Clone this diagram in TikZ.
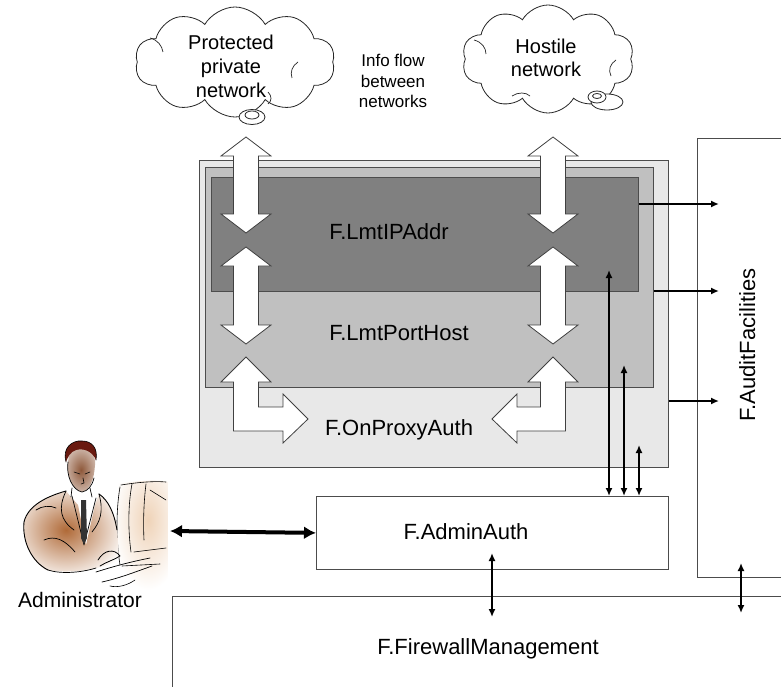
\documentclass[tikz,border=0pt]{standalone}
\usepackage{fontspec}
\setmainfont{Liberation Sans}
\usetikzlibrary{shapes.symbols,arrows.meta,calc}
\definecolor{paneLight}{HTML}{E8E8E8}
\definecolor{paneMid}{HTML}{C0C0C0}
\definecolor{paneDark}{HTML}{808080}
\definecolor{suit}{HTML}{B06A38}
\definecolor{skin}{HTML}{8E583A}
\definecolor{hair}{HTML}{6A1A10}
\definecolor{screen}{HTML}{EFD3B8}
% vertical two-headed block arrow: x centre, top tip y, bottom tip y
\newcommand{\dblockv}[3]{%
  \draw[blockarrow] (#1,#2) -- ({#1+25},{#2+19}) -- ({#1+12.5},{#2+19})
    -- ({#1+12.5},{#3-19}) -- ({#1+25},{#3-19}) -- (#1,#3)
    -- ({#1-25},{#3-19}) -- ({#1-12.5},{#3-19}) -- ({#1-12.5},{#2+19})
    -- ({#1-25},{#2+19}) -- cycle;}
\begin{document}
\begin{tikzpicture}[x=1pt,y=-1pt,
  box/.style={draw=black!70, line width=0.8pt, rectangle, inner sep=0pt, anchor=north west},
  lbl/.style={font=\fontsize{22}{26}\selectfont, inner sep=0pt},
  cloudtxt/.style={font=\fontsize{20}{24}\selectfont, align=center, inner sep=0pt},
  netcloud/.style={cloud, draw=black!85, fill=white, line width=0.8pt, cloud puffs=10,
    cloud puff arc=120, inner sep=0pt},
  curl/.style={draw=black!85, line width=0.7pt},
  blockarrow/.style={draw=black!75, fill=white, line width=0.8pt, line join=miter},
  tip/.style={line width=1.6pt, -{Latex[length=8pt,width=7pt]}},
  dtip/.style={line width=1.6pt, {Latex[length=8pt,width=7pt]}-{Latex[length=8pt,width=7pt]}},
  bigtip/.style={line width=4pt, {Latex[length=12pt,width=13pt]}-{Latex[length=12pt,width=13pt]}},
  bubble/.style={draw=black!85, fill=white, line width=0.8pt},
  ink/.style={draw=black, line width=0.9pt, line cap=round, line join=round},
]
\clip (0,0) rectangle (781,687);
\fill[white] (0,0) rectangle (781,687);

% ---- networks ----
\node[netcloud, minimum width=200pt, minimum height=110pt] (lan) at (235,62) {};
\node[netcloud, minimum width=172pt, minimum height=108pt] (wan) at (548,59) {};
% inner curls of the cloud outlines
\draw[curl] (150,38) .. controls (158,40) and (162,46) .. (163,52);
\draw[curl] (298,62) .. controls (292,66) and (290,72) .. (292,78);
\draw[curl] (268,92) .. controls (272,96) and (272,101) .. (268,104);
\draw[curl] (474,40) .. controls (482,42) and (486,48) .. (486,54);
\draw[curl] (616,60) .. controls (610,64) and (608,70) .. (611,76);
\draw[curl] (512,96) .. controls (518,92) and (526,92) .. (530,96);
\draw[bubble] (252,117) ellipse [x radius=13, y radius=7.5];
\draw[bubble] (252,115) ellipse [x radius=7, y radius=4];
\draw[bubble] (607,102) ellipse [x radius=16, y radius=8];
\draw[bubble] (597,97) ellipse [x radius=9, y radius=6];
\draw[bubble] (597,96) ellipse [x radius=4.5, y radius=2.5];
\node[cloudtxt] (lantxt) at (231,66) {Protected\\private\\network};
\node[cloudtxt, font=\fontsize{20}{23}\selectfont] (wantxt) at (546,58) {Hostile\\network};
\node[align=center, inner sep=0pt, font=\fontsize{17}{20.5}\selectfont] (flowtxt) at (393,81)
  {Info flow\\between\\networks};

% ---- filtering layers ----
\node[box, fill=paneLight, minimum width=469pt, minimum height=307pt] (proxy) at (199,160) {};
\node[box, fill=paneMid, minimum width=448pt, minimum height=220pt] (port) at (205,167) {};
\node[box, fill=paneDark, minimum width=427pt, minimum height=114pt] (ip) at (211,177) {};

% ---- audit, admin and management boxes ----
\node[box, fill=white, minimum width=110pt, minimum height=439pt] (audit) at (697,138) {};
\node[box, fill=white, minimum width=352pt, minimum height=73pt] (admin) at (316,496) {};
\node[box, fill=white, minimum width=640pt, minimum height=120pt] (fwm) at (172,596) {};

% ---- information flow between the networks ----
\dblockv{246}{137}{233}
\dblockv{246}{247}{344}
\dblockv{553}{137}{233}
\dblockv{553}{247}{344}
\draw[blockarrow] (246,357) -- (271,382) -- (258.5,382) -- (258.5,407) -- (283,407)
  -- (283,394) -- (308,419) -- (283,443) -- (283,431) -- (233.5,431) -- (233.5,382)
  -- (221,382) -- cycle;
\draw[blockarrow] (553,357) -- (578,382) -- (565.5,382) -- (565.5,431) -- (517,431)
  -- (517,443) -- (492,419) -- (517,394) -- (517,407) -- (540.5,407) -- (540.5,382)
  -- (528,382) -- cycle;

% ---- labels ----
\node[lbl] (iplbl) at (389,232) {F.LmtIPAddr};
\node[lbl] (portlbl) at (399,333) {F.LmtPortHost};
\node[lbl, anchor=base] (proxylbl) at (399,435) {F.OnProxyAuth};
\node[lbl, anchor=base] (adminlbl) at (466,539) {F.AdminAuth};
\node[lbl, anchor=base] (fwmlbl) at (488,654) {F.FirewallManagement};
\node[lbl, rotate=90, anchor=base] (auditlbl) at (755,345) {F.AuditFacilities};
\node[lbl, anchor=base, font=\fontsize{21}{25}\selectfont] (adminname) at (80,607) {Administrator};

% ---- audit records ----
\coordinate (au1) at (719,204);
\coordinate (au2) at (719,291);
\coordinate (au3) at (719,401);
\draw[tip] (ip.east |- au1) -- (au1);
\draw[tip] (port.east |- au2) -- (au2);
\draw[tip] (proxy.east |- au3) -- (au3);

% ---- administration of the layers ----
\coordinate (cf1) at (609,270);
\coordinate (cf2) at (624,365);
\coordinate (cf3) at (639,445);
\draw[dtip] (admin.north -| cf1) -- (cf1);
\draw[dtip] (admin.north -| cf2) -- (cf2);
\draw[dtip] (admin.north -| cf3) -- (cf3);
\coordinate (m1a) at (492,553);
\coordinate (m1b) at (492,617);
\draw[dtip] (m1a) -- (m1b);
\coordinate (m2a) at (741,563);
\coordinate (m2b) at (741,613);
\draw[dtip] (m2a) -- (m2b);

% ---- administrator at the console ----
\coordinate (op) at (170,531);
\draw[bigtip] (op) -- (admin.west);

% monitor
\begin{scope}
  \clip (118,484) .. controls (140,480) and (160,480) .. (168,482) -- (168,592) -- (112,592)
    -- (118,560) -- cycle;
  \shade[inner color=screen, outer color=white] (148,520) ellipse [x radius=36, y radius=70];
\end{scope}
\draw[ink, line width=0.6pt] (120,487) .. controls (116,510) and (116,540) .. (120,565);
\draw[ink, line width=0.6pt] (121,485) .. controls (140,482) and (155,481) .. (166,482);
\draw[ink, line width=0.6pt] (132,484) .. controls (128,505) and (128,530) .. (131,552);
\draw[ink, line width=0.6pt] (146,484) .. controls (144,500) and (143,520) .. (144,540);
\draw[ink, line width=0.6pt] (150,490) -- (166,500);
\draw[ink, line width=0.6pt] (134,552) -- (166,548);
\draw[ink, line width=0.6pt] (122,566) -- (160,564);
% jacket
\begin{scope}
  \clip (24,522) .. controls (28,505) and (48,496) .. (66,491) -- (78,505) -- (86,545)
    -- (95,505) -- (99,494) .. controls (108,500) and (114,512) .. (117,525)
    -- (119,560) .. controls (100,570) and (70,574) .. (46,570)
    .. controls (32,562) and (22,542) .. (24,522) -- cycle;
  \shade[inner color=suit, outer color=white] (66,530) ellipse [x radius=62, y radius=52];
\end{scope}
\draw[ink] (24,522) .. controls (28,505) and (48,496) .. (66,491);
\draw[ink] (99,494) .. controls (108,500) and (114,512) .. (117,530);
\draw[ink] (24,522) .. controls (22,542) and (32,562) .. (48,570);
\draw[ink, line width=0.7pt] (48,570) .. controls (60,574) and (80,573) .. (96,568);
\draw[ink, line width=0.7pt] (66,491) .. controls (58,508) and (60,520) .. (74,530);
\draw[ink, line width=0.7pt] (99,494) .. controls (104,512) and (100,522) .. (92,532);
\draw[ink, line width=0.7pt] (44,540) .. controls (55,535) and (65,540) .. (75,552);
\draw[ink, line width=0.7pt] (36,510) .. controls (42,506) and (50,505) .. (56,508);
% shirt and tie
\draw[ink, line width=0.7pt] (72,496) -- (84,545) -- (96,498);
\fill[black!80] (81,500) -- (86,500) -- (87,538) -- (84,544) -- (81,538) -- cycle;
% head
\shade[inner color=skin, outer color=skin!45] (68,462) .. controls (66,475) and (72,490) .. (82,492)
  .. controls (90,490) and (94,480) .. (95,465) .. controls (96,455) and (90,448) .. (80,448)
  .. controls (72,448) and (68,455) .. (68,462);
\draw[ink, line width=0.7pt] (68,462) .. controls (66,475) and (72,490) .. (82,492)
  .. controls (88,491) and (92,486) .. (94,478);
\draw[ink, line width=0.6pt] (74,472) -- (80,474);
\draw[ink, line width=0.6pt] (85,474) -- (90,472);
\draw[ink, line width=0.6pt] (83,478) -- (84,483) -- (81,484);
\draw[ink, line width=0.7pt] (72,488) -- (71,497);
\draw[ink, line width=0.7pt] (90,488) -- (92,497);
% hair
\fill[hair] (66,462) .. controls (62,448) and (72,440) .. (82,441)
  .. controls (92,441) and (98,448) .. (96,460) .. controls (92,451) and (84,448) .. (76,450)
  .. controls (70,452) and (68,457) .. (66,462) -- cycle;
\draw[ink, line width=0.6pt] (66,462) .. controls (62,448) and (72,440) .. (82,441)
  .. controls (92,441) and (98,448) .. (96,460);
% hands and keyboard
\draw[ink, line width=0.8pt] (98,560) .. controls (104,550) and (114,548) .. (120,556)
  .. controls (114,560) and (106,562) .. (100,566);
\draw[ink, line width=0.7pt] (96,572) .. controls (115,566) and (130,562) .. (150,558);
\draw[ink, line width=0.7pt] (102,582) .. controls (120,578) and (135,572) .. (152,566);
\draw[ink, line width=0.6pt] (110,586) .. controls (118,588) and (128,585) .. (135,580);
\end{tikzpicture}
\end{document}
